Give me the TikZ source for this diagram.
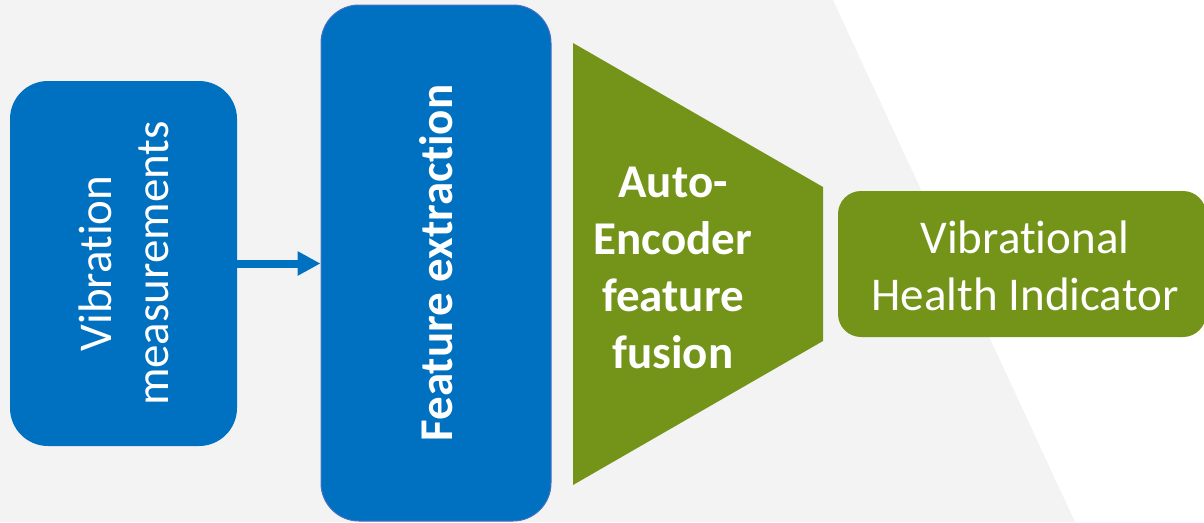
\documentclass[tikz,border=0pt]{standalone}
\usepackage{fontspec}
\setmainfont{Carlito}[Ligatures=NoCommon]
\usetikzlibrary{arrows.meta}
\definecolor{panelgray}{HTML}{F3F3F3}
\definecolor{stageblue}{HTML}{0070C0}
\definecolor{edgeblue}{HTML}{4472C4}
\definecolor{stagegreen}{HTML}{739419}
\begin{document}
\begin{tikzpicture}[x=1pt,y=-1pt,
  bigfont/.style={font=\fontsize{47}{57}\selectfont},
  stagebox/.style={fill=stageblue, text=white, bigfont, align=center,
    rounded corners=38pt, inner sep=0pt},
  greenbox/.style={fill=stagegreen, text=white, bigfont, align=center,
    rounded corners=23pt, inner sep=0pt},
  flow/.style={stageblue, line width=8pt, -{Triangle[length=23pt,width=23pt]}}]
  \useasboundingbox (0,0) rectangle (1204,522);
  % light panel behind the pipeline
  \fill[panelgray] (0,0) -- (833,0) -- (1075,522) -- (0,522) -- cycle;

  % input measurements
  \node[stagebox, minimum width=227pt, minimum height=365pt] (meas) at (123.5,263.5) {};
  \node[rotate=90, text=white, bigfont, align=center] (meastext) at (meas.center)
    {Vibration\\measurements};

  % feature extraction stage
  \node[stagebox, draw=edgeblue, line width=1pt, minimum width=230pt, minimum height=516pt] (feat) at (436,263) {};
  \node[rotate=90, text=white, font=\fontsize{47}{57}\selectfont\bfseries] (feattext) at (feat.center)
    {Feature extraction};

  % auto-encoder funnel
  \fill[stagegreen] (573,43) -- (823,187) -- (823,341) -- (573,485) -- cycle;
  \node[text=white, align=center, font=\fontsize{47}{57}\selectfont\bfseries] (ae) at (673,268)
    {Auto-\\Encoder\\feature\\fusion};

  % output indicator
  \node[greenbox, minimum width=368pt, minimum height=146pt] (hi) at (1022,264) {};
  \node[text=white, bigfont, align=center] (hitext) at (1025,266)
    {Vibrational\\Health Indicator};

  \draw[flow] (meas.east) -- (meas.east -| feat.west);
\end{tikzpicture}
\end{document}
